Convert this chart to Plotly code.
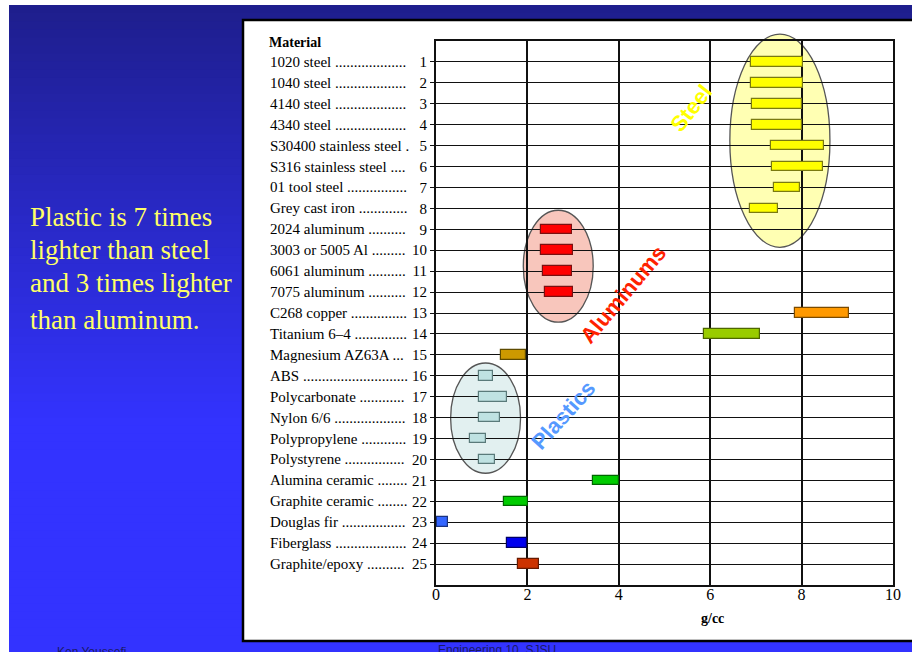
import math
import plotly.graph_objects as go

# ---- data -------------------------------------------------------------
materials = [
    "1020 steel", "1040 steel", "4140 steel", "4340 steel",
    "S30400 stainless steel", "S316 stainless steel", "01 tool steel",
    "Grey cast iron", "2024 aluminum", "3003 or 5005 Al", "6061 aluminum",
    "7075 aluminum", "C268 copper", "Titanium 6\u20134", "Magnesium AZ63A",
    "ABS", "Polycarbonate", "Nylon 6/6", "Polypropylene", "Polystyrene",
    "Alumina ceramic", "Graphite ceramic", "Douglas fir", "Fiberglass",
    "Graphite/epoxy",
]
row_numbers = list(range(1, 26))

# density range of each material, g/cc
density_low = [6.9, 6.9, 6.92, 6.92, 7.34, 7.36, 7.4, 6.87,
               2.3, 2.3, 2.35, 2.39, 7.85, 5.86, 1.43,
               0.95, 0.93, 0.95, 0.74, 0.95,
               3.44, 1.49, 0.03, 1.56, 1.79]
density_high = [8.02, 8.02, 8.01, 8.0, 8.48, 8.46, 7.97, 7.48,
                2.98, 2.99, 2.98, 3.0, 9.03, 7.09, 1.98,
                1.25, 1.56, 1.39, 1.09, 1.28,
                4.0, 2.01, 0.26, 2.0, 2.26]

bar_fill = (["#FFFF00"] * 8 + ["#FF0000"] * 4 +
            ["#FF9900", "#99CC00", "#CC9900"] + ["#BFE2E2"] * 5 +
            ["#00CC00", "#00CC00", "#3366FF", "#0000EE", "#CC3300"])
bar_edge = (["#7A7A10"] * 8 + ["#7A1010"] * 4 +
            ["#7A4A00", "#4D6600", "#5E4A00"] + ["#5A7A7A"] * 5 +
            ["#006600", "#006600", "#1A3380", "#000066", "#661A00"])

x_ticks = [0, 2, 4, 6, 8, 10]
x_title = "g/cc"

groups = [  # label, x-span, row-span, fill, text colour, text centre, angle
    ("Steel", (6.43, 8.62), (-0.33, 9.86), "#FFFFB3", "#FFFF00", (5.6, 3.2), -52),
    ("Aluminums", (1.91, 3.44), (8.09, 13.44), "#F8C6BC", "#FF2200", (4.09, 12.1), -50),
    ("Plastics", (0.32, 1.85), (15.39, 20.66), "#E2F0F0", "#5599FF", (2.78, 17.9), -48),
]

side_note = ["Plastic is 7 times", "lighter than steel",
             "and 3 times lighter", "than aluminum."]

# ---- geometry ---------------------------------------------------------
W, H = 912, 652
X_DOM = (436 / W, 893 / W)
Y_DOM = (1 - 585 / H, 1 - 41 / H)
X_RANGE = (0, 10)
Y_TOP, Y_BOTTOM = 0, 26


def px(x):
    return x / W


def py(y):
    return 1 - y / H


def data_to_paper_x(v):
    return X_DOM[0] + (v - X_RANGE[0]) / (X_RANGE[1] - X_RANGE[0]) * (X_DOM[1] - X_DOM[0])


def data_to_paper_y(r):
    return Y_DOM[1] - (r - Y_TOP) / (Y_BOTTOM - Y_TOP) * (Y_DOM[1] - Y_DOM[0])


def mix(c0, c1, t):
    a = [int(c0[i:i + 2], 16) for i in (1, 3, 5)]
    b = [int(c1[i:i + 2], 16) for i in (1, 3, 5)]
    return "rgb(%d,%d,%d)" % tuple(round(a[k] + (b[k] - a[k]) * t) for k in range(3))


# Times-metric advance widths (per 1000 em) for building dotted leaders
_TIMES = {" ": 250, ".": 250, "/": 278, "-": 333, "\u2013": 500}
_TIMES.update({d: 500 for d in "0123456789"})
_TIMES.update(dict(zip("ABCDEFGHIJKLMNOPQRSTUVWXYZ",
                       [722, 667, 667, 722, 611, 556, 722, 722, 333, 389, 722, 611, 889,
                        722, 722, 556, 722, 667, 556, 611, 722, 722, 944, 722, 722, 611])))
_TIMES.update(dict(zip("abcdefghijklmnopqrstuvwxyz",
                       [444, 500, 444, 500, 444, 333, 500, 500, 278, 278, 500, 278, 778,
                        500, 500, 500, 500, 333, 389, 278, 500, 500, 722, 500, 500, 444])))


def text_width(s, size):
    return sum(_TIMES.get(c, 500) for c in s) * size / 1000.0


def with_leader(name, size, start_px, end_px):
    room = end_px - start_px - text_width(name + " ", size)
    n = max(1, int(math.floor(room / text_width(".", size))))
    return name + " " + "." * n


LABEL_SIZE = 15

fig = go.Figure()

fig.add_trace(go.Bar(
    orientation="h",
    y=row_numbers,
    base=density_low,
    x=[h - l for l, h in zip(density_low, density_high)],
    width=0.46,
    marker=dict(color=bar_fill, line=dict(color=bar_edge, width=1.2)),
    hoverinfo="skip",
))

shapes = []
# slide background: white margin, then a vertical blue gradient
n_strips = 80
top, bottom = 5, 652
for i in range(n_strips):
    y0 = top + (bottom - top) * i / n_strips
    y1 = y0 + (bottom - top) / n_strips
    t = min(1.0, max(0.0, ((y0 + y1) / 2 - 5) / 420))
    shapes.append(dict(type="rect", xref="paper", yref="paper", layer="below",
                       x0=px(9), x1=1, y0=py(bottom), y1=py(y0),
                       fillcolor=mix("#1E1E8C", "#3333FF", t), line_width=0))
# white chart panel with black frame
shapes.append(dict(type="rect", xref="paper", yref="paper", layer="below",
                   x0=px(243), x1=px(925), y0=py(641), y1=py(20),
                   fillcolor="white", line=dict(color="black", width=2.5)))
# group ellipses
for label, (gx0, gx1), (gr0, gr1), fill, tcol, tpos, ang in groups:
    shapes.append(dict(type="circle", xref="paper", yref="paper", layer="below",
                       x0=data_to_paper_x(gx0), x1=data_to_paper_x(gx1),
                       y0=data_to_paper_y(gr1), y1=data_to_paper_y(gr0),
                       fillcolor=fill, line=dict(color="#555555", width=1.3)))

annotations = []
serif = "Liberation Serif, Times New Roman, serif"

# material names with dotted leaders
for r, name in zip(row_numbers, materials):
    annotations.append(dict(xref="paper", yref="y", x=px(268), y=r,
                            xanchor="left", yanchor="middle", showarrow=False,
                            text=with_leader(name, LABEL_SIZE, 268, 406),
                            font=dict(family=serif, size=LABEL_SIZE, color="#000000")))
annotations.append(dict(xref="paper", yref="paper", x=px(267), y=py(43),
                        xanchor="left", yanchor="middle", showarrow=False,
                        text="<b>Material</b>", font=dict(family=serif, size=14, color="#000000")))
annotations.append(dict(xref="paper", yref="paper", x=px(712), y=py(618),
                        xanchor="center", yanchor="middle", showarrow=False,
                        text="<b>" + x_title + "</b>", font=dict(family=serif, size=14, color="#000000")))

# group labels
for label, _, _, _, tcol, (tx, tr), ang in groups:
    annotations.append(dict(xref="x", yref="y", x=tx, y=tr, showarrow=False,
                            text="<b>" + label + "</b>", textangle=ang,
                            font=dict(family="Arial, Liberation Sans, sans-serif", size=22, color=tcol)))

# side note
for line, ycen in zip(side_note, [217, 250, 283, 320]):
    annotations.append(dict(xref="paper", yref="paper", x=px(28), y=py(ycen),
                            xanchor="left", yanchor="middle", showarrow=False,
                            text=line, font=dict(family=serif, size=27, color="#FFFF66")))

# footer
annotations.append(dict(xref="paper", yref="paper", x=px(497), y=py(641),
                        xanchor="center", yanchor="top", showarrow=False,
                        text="Engineering 10, SJSU",
                        font=dict(family="Arial, Liberation Sans, sans-serif", size=12, color="#1A1A66")))
annotations.append(dict(xref="paper", yref="paper", x=px(55), y=py(643),
                        xanchor="left", yanchor="top", showarrow=False,
                        text="Ken Youssefi",
                        font=dict(family="Arial, Liberation Sans, sans-serif", size=12, color="#1A1A66")))

fig.update_layout(
    width=W, height=H,
    margin=dict(l=0, r=0, t=0, b=0, autoexpand=False),
    paper_bgcolor="white",
    plot_bgcolor="rgba(0,0,0,0)",
    showlegend=False,
    bargap=0,
    shapes=shapes,
    annotations=annotations,
    xaxis=dict(domain=list(X_DOM), range=list(X_RANGE), tickvals=x_ticks,
               automargin=False,
               showgrid=True, gridcolor="#111111", gridwidth=1.5,
               zeroline=False, showline=True, mirror=True, linecolor="#111111",
               linewidth=2, ticks="", ticklabelstandoff=-6, fixedrange=True,
               tickfont=dict(family=serif, size=16, color="#000000")),
    yaxis=dict(domain=list(Y_DOM), range=[Y_BOTTOM, Y_TOP], tickvals=row_numbers,
               ticktext=[str(n) for n in row_numbers], automargin=False,
               showgrid=True, gridcolor="#111111", gridwidth=1.3,
               zeroline=False, showline=True, mirror=True, linecolor="#111111",
               linewidth=2, ticks="outside", ticklen=4, tickcolor="#111111",
               fixedrange=True,
               tickfont=dict(family=serif, size=15, color="#000000")),
)

fig.write_html("out.html")
